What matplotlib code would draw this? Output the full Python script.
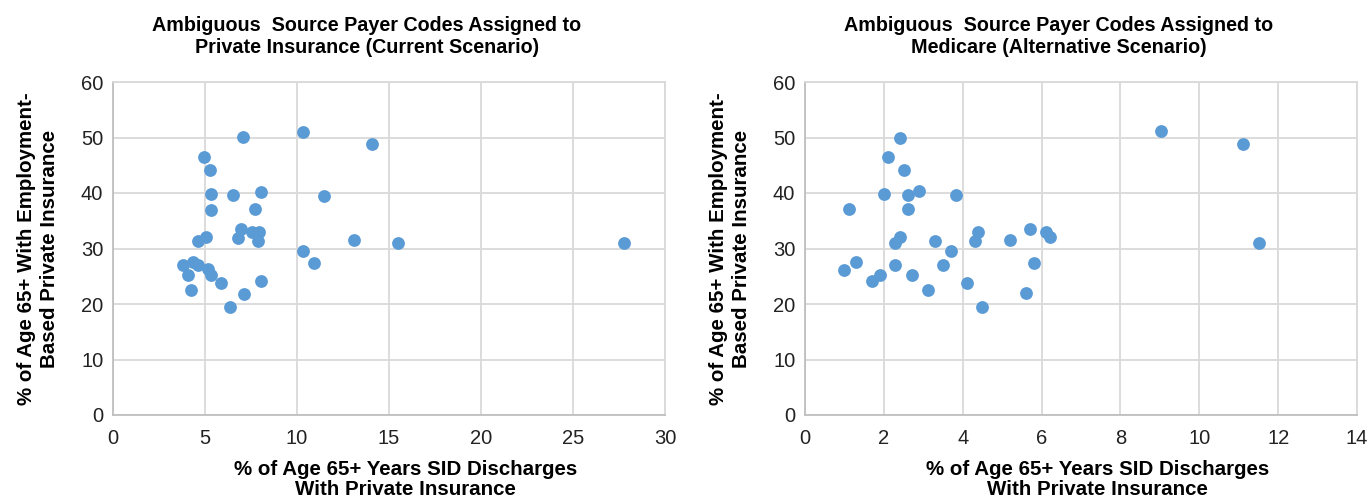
import matplotlib
matplotlib.use("Agg")
from matplotlib import pyplot as plt

plt.rcParams["font.family"] = ["Liberation Sans", "DejaVu Sans"]

# current scenario (ambiguous codes -> private insurance)
cur_x = [7.05, 10.3, 14.05, 4.95, 5.28, 5.33, 6.52, 8.06, 11.47, 5.33,
         7.7, 6.98, 6.8, 7.58, 7.92, 7.88, 5.03, 4.63, 13.12, 15.47,
         27.75, 10.3, 10.93, 3.8, 4.35, 4.62, 5.17, 5.35, 4.05, 5.89,
         8.05, 4.25, 7.14, 6.35]
cur_y = [50.1, 51.0, 48.8, 46.5, 44.1, 39.9, 39.7, 40.2, 39.5, 37.0,
         37.1, 33.6, 31.9, 32.9, 32.9, 31.3, 32.0, 31.3, 31.5, 31.0,
         31.0, 29.5, 27.3, 27.1, 27.6, 27.1, 26.3, 25.3, 25.3, 23.8,
         24.1, 22.5, 21.8, 19.5]

# alternative scenario (ambiguous codes -> medicare)
alt_x = [9.02, 11.12, 11.51, 2.40, 2.10, 2.50, 2.01, 2.61, 2.90, 3.83,
         1.11, 2.61, 2.40, 2.29, 3.29, 4.39, 4.32, 5.21, 5.70, 6.11,
         6.21, 3.71, 5.82, 1.29, 1.00, 2.29, 1.89, 1.70, 2.72, 3.51,
         3.11, 4.11, 5.61, 4.50]
alt_y = [51.2, 48.8, 31.0, 50.0, 46.5, 44.1, 39.9, 39.7, 40.3, 39.7,
         37.1, 37.1, 32.1, 31.0, 31.4, 32.9, 31.4, 31.5, 33.6, 32.9,
         32.1, 29.5, 27.3, 27.5, 26.2, 27.1, 25.2, 24.2, 25.2, 27.1,
         22.5, 23.7, 21.9, 19.5]

titles = ["Ambiguous  Source Payer Codes Assigned to\nPrivate Insurance (Current Scenario)",
          "Ambiguous  Source Payer Codes Assigned to\nMedicare (Alternative Scenario)"]
xlabel = "% of Age 65+ Years SID Discharges\nWith Private Insurance"
ylabel = "% of Age 65+ With Employment-\nBased Private Insurance"

fig = plt.figure(figsize=(13.72, 5.01), dpi=100)
ax1 = fig.add_axes([113 / 1372, 1 - 415 / 501, 552 / 1372, 333 / 501])
ax2 = fig.add_axes([805 / 1372, 1 - 415 / 501, 552 / 1372, 333 / 501])

panels = [(ax1, cur_x, cur_y, 30, 5), (ax2, alt_x, alt_y, 14, 2)]
for i, (ax, xs, ys, xmax, step) in enumerate(panels):
    ax.scatter(xs, ys, s=85, color="#5B9BD5", zorder=3, linewidths=0)
    ax.set_xlim(0, xmax)
    ax.set_ylim(0, 60)
    ax.set_xticks(range(0, xmax + 1, step))
    ax.set_yticks(range(0, 61, 10))
    ax.grid(True, color="#d9d9d9", linewidth=1.3)
    ax.set_axisbelow(True)
    for side in ["top", "right", "left", "bottom"]:
        ax.spines[side].set_color("#d9d9d9")
        ax.spines[side].set_linewidth(1.3)
    ax.spines["bottom"].set_color("#bfbfbf")
    ax.spines["left"].set_color("#bfbfbf")
    ax.tick_params(length=0, labelsize=14.5, colors="#222222", pad=7)
    ax.tick_params(axis="x", pad=10)
    ax.set_title(titles[i], fontsize=14.2, fontweight="bold", pad=21,
                 linespacing=1.2, x=0.46)
    ax.set_xlabel(xlabel, fontsize=14.8, fontweight="bold", linespacing=1.1)
    ax.xaxis.set_label_coords(0.53, -0.135, transform=ax.transAxes)
    ax.xaxis.label.set_va("top")
    ax.set_ylabel(ylabel, fontsize=14.8, fontweight="bold", labelpad=16,
                  linespacing=1.25)

fig.savefig("out.png", dpi=100, facecolor="white")
